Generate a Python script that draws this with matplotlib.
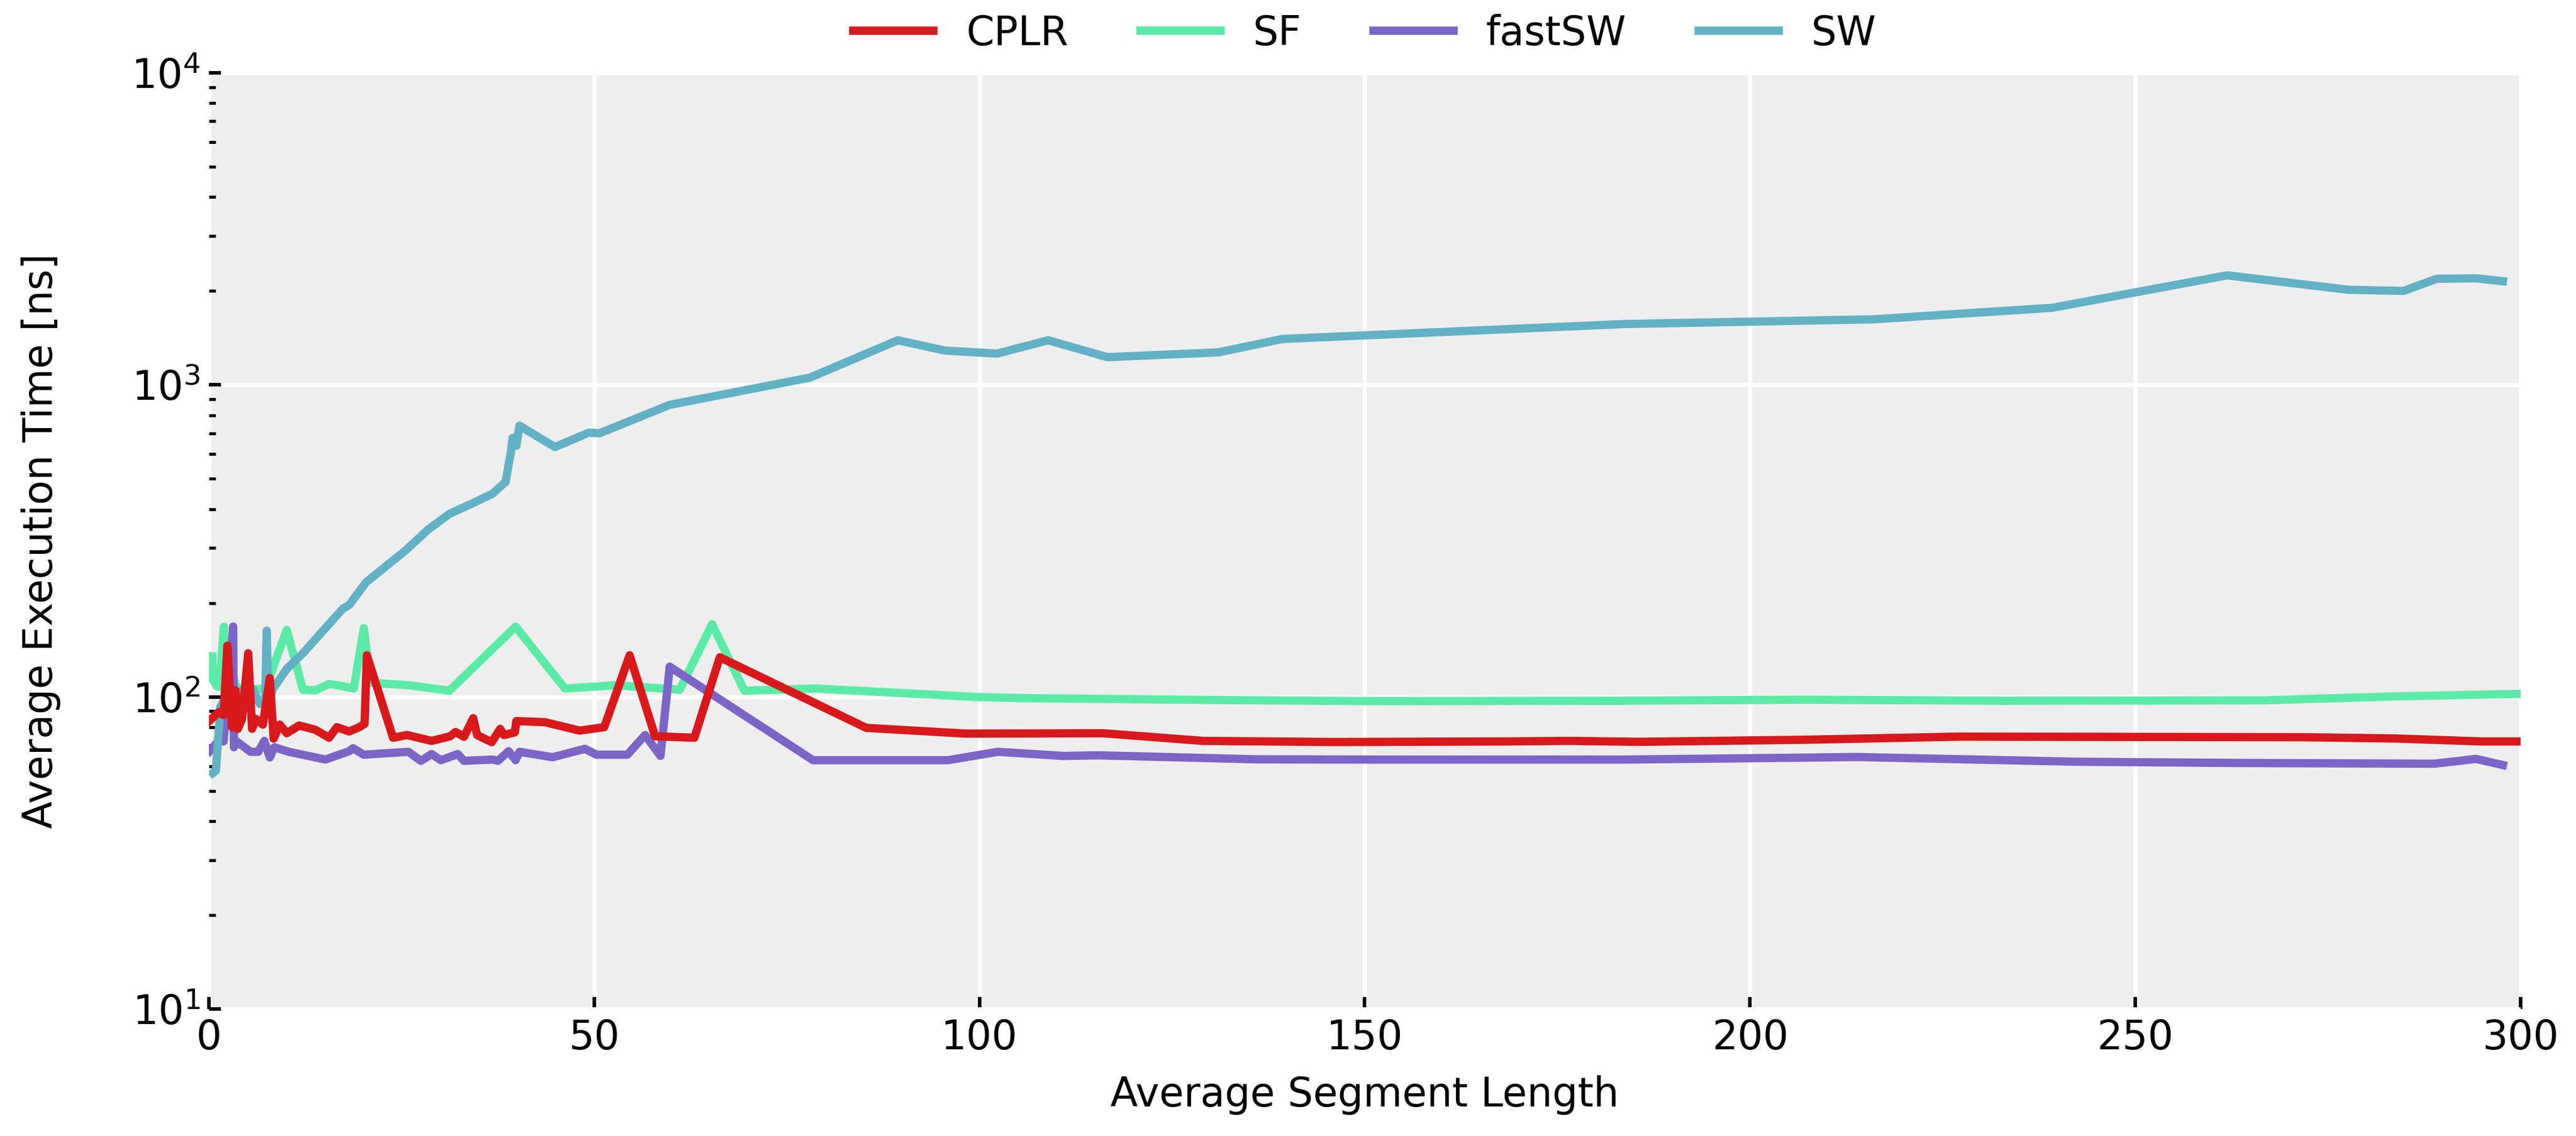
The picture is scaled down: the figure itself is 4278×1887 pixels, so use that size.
import numpy as np
import matplotlib
matplotlib.use('Agg')
import matplotlib.pyplot as plt

# data
cplr_x = [0.1, 1.3, 1.9, 2.4, 3.0, 3.45, 3.75, 4.3, 5.1, 5.6, 6.1, 7.0, 7.9, 8.4, 9.2, 10.1,
          11.7, 13.8, 15.6, 16.6, 18.2, 19.5, 20.2, 20.5, 23.9, 25.7, 28.9, 31.3, 32.0, 33.1,
          34.3, 34.8, 36.7, 37.8, 38.3, 39.7, 39.9, 43.6, 48.1, 51.3, 54.6, 57.9, 63.0, 66.3,
          85.3, 98.2, 116.0, 129.0, 146.0, 168.0, 176.6, 185.6, 207.0, 227.0, 271.6, 283.7,
          295.0, 300.0]
cplr_y = [84, 89.5, 87.5, 146, 80, 105, 79, 85, 138, 79, 85, 81.5, 115, 73.5, 81.5, 76.5,
          81, 78.5, 74, 80, 77.5, 80, 82, 136, 74, 75.5, 72.3, 74.8, 77.2, 74.5,
          85.5, 75.5, 71.6, 79, 75.5, 77, 83.7, 83, 78, 80, 136, 74.8, 74, 134,
          79.6, 76.3, 76.5, 72.3, 71.7, 72, 72.3, 71.8, 72.9, 74.6, 74.3, 73.6,
          72, 72]

sf_x = [0.46, 0.47, 1.1, 1.4, 1.93, 2.0, 3.1, 3.5, 4.2, 7.3, 10.1, 12.2, 13.8, 15.6, 17.1,
        18.8, 20.1, 21.0, 26.0, 31.2, 39.8, 46.2, 52.8, 61.1, 65.3, 69.5, 78.8, 99.4,
        105.7, 118.6, 136.0, 152.0, 183.0, 207.0, 232.7, 266.5, 283.7, 300.0]
sf_y = [135, 114, 108, 108, 168, 116, 118, 108, 106, 106, 164, 105.5, 105, 110, 108.5,
        106.4, 166, 111, 109, 104.7, 168, 106.4, 109, 105.5, 171, 104.7, 106.4, 100,
        99.1, 98.4, 97.5, 96.9, 97.2, 98, 97.2, 97.5, 100.4, 102.3]

fastsw_x = [0.1, 1.4, 1.9, 3.15, 3.25, 3.6, 4.6, 5.4, 6.4, 7.2, 7.9, 8.5, 9.3, 10.4, 15.1,
            18.2, 18.7, 20.1, 25.9, 27.5, 28.9, 30.1, 32.3, 33.1, 36.8, 37.5, 38.9, 39.8,
            40.3, 44.6, 48.8, 50.3, 54.3, 56.6, 58.6, 59.8, 78.4, 95.9, 102.4, 110.9,
            115.4, 136.0, 150.0, 184.0, 207.0, 213.8, 242.3, 264.6, 288.8, 294.2, 297.7]
fastsw_y = [67, 73, 72, 168, 69, 72, 69, 66.7, 66.7, 72.3, 64, 69, 68, 66.7, 63,
            67, 68.5, 65.3, 66.7, 62.4, 65.6, 62.7, 65.6, 62.4, 63, 62.4, 67, 62.7,
            66.7, 64.1, 68.2, 65.3, 65.3, 75.5, 64.7, 125, 62.7, 62.7, 66.7, 64.7,
            65, 63.1, 63, 63, 63.9, 64.2, 62, 61.4, 61.1, 63.3, 60.5]

sw_x = [0.5, 0.9, 1.5, 2.0, 3.0, 4.0, 5.0, 5.7, 6.6, 7.3, 7.5, 7.7, 8.3, 10.1, 12.2, 15.1,
        17.4, 18.2, 20.4, 25.6, 28.4, 31.2, 34.0, 36.8, 38.5, 39.2, 39.4, 39.9, 40.3, 44.9,
        49.3, 50.7, 59.8, 78.0, 89.4, 95.5, 102.3, 108.9, 116.6, 131.0, 139.3, 183.8,
        216.0, 239.2, 261.9, 277.7, 284.8, 289.1, 294.2, 297.7]
sw_y = [57, 58, 93, 98, 101, 104, 106, 106, 95, 96, 163, 96, 106, 123, 138, 166,
        192, 197, 233, 296, 343, 386, 415, 448, 489, 611, 676, 638, 740, 632,
        703, 700, 863, 1055, 1390, 1288, 1260, 1390, 1227, 1271, 1403, 1567,
        1622, 1766, 2244, 2017, 2000, 2187, 2195, 2149]

plt.rcParams['font.family'] = ['DejaVu Sans']
plt.rcParams['font.size'] = 16

fig = plt.figure(figsize=(14.26, 6.29), dpi=300)
ax = fig.add_axes([0.0811, 0.1118, 0.8974, 0.8241])
ax.set_facecolor('#eeeeee')

lw = 3.3
h_cplr, = ax.plot(cplr_x, cplr_y, color='#d7191c', lw=lw, label='CPLR', zorder=5)
h_sf, = ax.plot(sf_x, sf_y, color='#5beba6', lw=lw, label='SF', zorder=2)
h_fast, = ax.plot(fastsw_x, fastsw_y, color='#7b65c6', lw=lw, label='fastSW', zorder=3)
h_sw, = ax.plot(sw_x, sw_y, color='#63b1c4', lw=lw, label='SW', zorder=4)

ax.set_yscale('log')
ax.set_xlim(0, 300)
ax.set_ylim(10, 1e4)
ax.set_xticks([0, 50, 100, 150, 200, 250, 300])

for s in ax.spines.values():
    s.set_visible(False)
ax.set_axisbelow(True)
ax.grid(True, which='major', color='white', lw=1.6)
ax.tick_params(which='major', direction='in', length=4.8, width=1.4, color='black')
ax.tick_params(which='minor', direction='in', length=2.6, width=1.2, color='black')
ax.tick_params(axis='x', which='minor', length=0)

ax.set_xlabel('Average Segment Length', labelpad=7)
ax.set_ylabel('Average Execution Time [ns]')
ax.yaxis.set_label_coords(-0.064, 0.5)

ax.legend(handles=[h_cplr, h_sf, h_fast, h_sw], loc='center', bbox_to_anchor=(0.5, 1.042),
          ncol=4, frameon=False, handlelength=2.0, columnspacing=1.8)

fig.savefig('out.png', dpi=300)
